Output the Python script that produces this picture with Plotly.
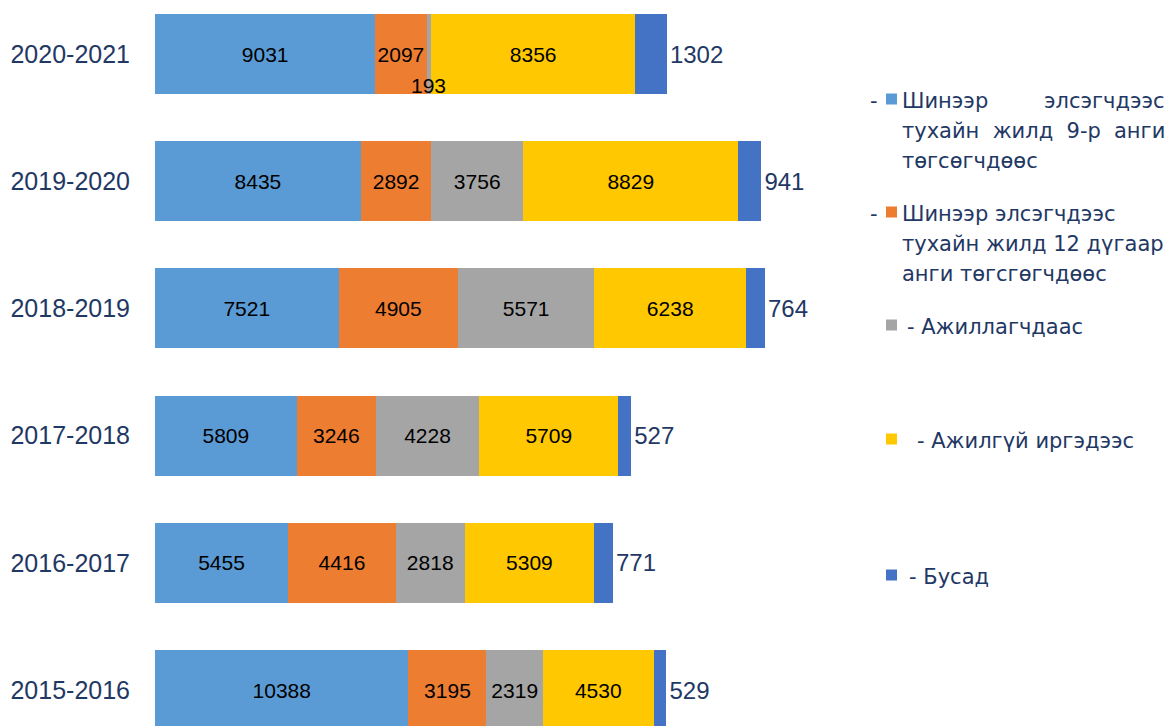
import plotly.graph_objects as go

categories = ["2020-2021", "2019-2020", "2018-2019", "2017-2018", "2016-2017", "2015-2016"]
grade9 = [9031, 8435, 7521, 5809, 5455, 10388]
grade12 = [2097, 2892, 4905, 3246, 4416, 3195]
employed = [193, 3756, 5571, 4228, 2818, 2319]
unemployed = [8356, 8829, 6238, 5709, 5309, 4530]
other = [1302, 941, 764, 527, 771, 529]

series_names = [
    "Шинээр элсэгчдээс тухайн жилд 9-р анги төгсөгчдөөс",
    "Шинээр элсэгчдээс тухайн жилд 12 дугаар анги төгсгөгчдөөс",
    "Ажиллагчдаас",
    "Ажилгүй иргэдээс",
    "Бусад",
]
colors = ["#5B9BD5", "#ED7D31", "#A5A5A5", "#FFC800", "#4472C4"]
NAVY = "#1F3864"

OFF = 8  # page body margin
W, H = 1174 - OFF, 726 - OFF
L, R = 155 - OFF, 855 - OFF  # plot area in px (figure coords)
PW = R - L

fig = go.Figure()
all_series = [grade9, grade12, employed, unemployed, other]
for i, (vals, name, col) in enumerate(zip(all_series, series_names, colors)):
    last = i == len(all_series) - 1
    if name == "Ажиллагчдаас":
        texts = [str(v) if v > 1000 else "" for v in vals]
    else:
        texts = [str(v) for v in vals]
    fig.add_trace(go.Bar(
        y=categories, x=vals, orientation="h", name=name,
        marker=dict(color=col, line=dict(width=0)),
        text=texts,
        textposition="outside" if last else "inside",
        insidetextanchor="middle",
        textangle=0,
        constraintext="none",
        insidetextfont=dict(family="Liberation Sans, Arial, sans-serif", size=21, color="#000000"),
        outsidetextfont=dict(family="Liberation Sans, Arial, sans-serif", size=24, color=NAVY),
        cliponaxis=False,
        showlegend=False,
        hoverinfo="skip",
    ))

annotations = []
# small gray value that does not fit inside its segment
for c, a, b, e in zip(categories, grade9, grade12, employed):
    if e <= 1000:
        annotations.append(dict(x=a + b + e / 2, y=c, xref="x", yref="y", text=str(e),
                                showarrow=False, yshift=-31,
                                font=dict(family="Liberation Sans, Arial, sans-serif", size=21, color="#000000")))

def px_x(p):
    return (p - OFF - L) / PW

def px_y(p):
    return 1 - (p - OFF) / H

leg_font = dict(family="DejaVu Sans, Verdana, sans-serif", size=21, color=NAVY)
shapes = []

def text_at(x, y, t, anchor="left"):
    annotations.append(dict(x=px_x(x), y=px_y(y), xref="paper", yref="paper",
                            text=t, showarrow=False, xanchor=anchor, yanchor="middle",
                            font=leg_font))

def square(x, y, col, s=11):
    shapes.append(dict(type="rect", xref="paper", yref="paper",
                       x0=px_x(x), x1=px_x(x + s), y0=px_y(y + s / 2), y1=px_y(y - s / 2),
                       fillcolor=col, line=dict(width=0)))

# item 1
text_at(868, 101, "-")
square(886, 99, colors[0])
text_at(900, 101, "Шинээр")
text_at(1167, 101, "элсэгчдээс", anchor="right")
text_at(900, 131, "тухайн  жилд  9-р")
text_at(1167, 131, "анги", anchor="right")
text_at(900, 161, "төгсөгчдөөс")
# item 2
text_at(868, 214, "-")
square(886, 212, colors[1])
text_at(900, 214, "Шинээр элсэгчдээс")
text_at(900, 244, "тухайн жилд 12 дүгаар")
text_at(900, 274, "анги төгсгөгчдөөс")
# item 3
square(886, 325, colors[2])
text_at(905, 327, "- Ажиллагчдаас")
# item 4
square(886, 439, colors[3])
text_at(915, 441, "- Ажилгүй иргэдээс")
# item 5
square(886, 575, colors[4])
text_at(907, 577, "- Бусад")

spacing = 127.2
top_c, bot_c = 54 - OFF, 690 - OFF
y_top = -top_c / spacing
y_bot = 5 + (H - bot_c) / spacing

fig.update_layout(
    width=W, height=H,
    margin=dict(l=L, r=W - R, t=0, b=0),
    barmode="stack",
    bargap=0.37,
    plot_bgcolor="white", paper_bgcolor="white",
    xaxis=dict(range=[0, PW / 0.0244], visible=False, showgrid=False, zeroline=False),
    yaxis=dict(categoryorder="array", categoryarray=categories, range=[y_bot, y_top],
               showgrid=False, zeroline=False, showline=False,
               ticks="outside", ticklen=19, tickcolor="rgba(0,0,0,0)",
               tickfont=dict(family="Liberation Sans, Arial, sans-serif", size=25, color=NAVY)),
    annotations=annotations,
    shapes=shapes,
)

fig.write_html("out.html")
